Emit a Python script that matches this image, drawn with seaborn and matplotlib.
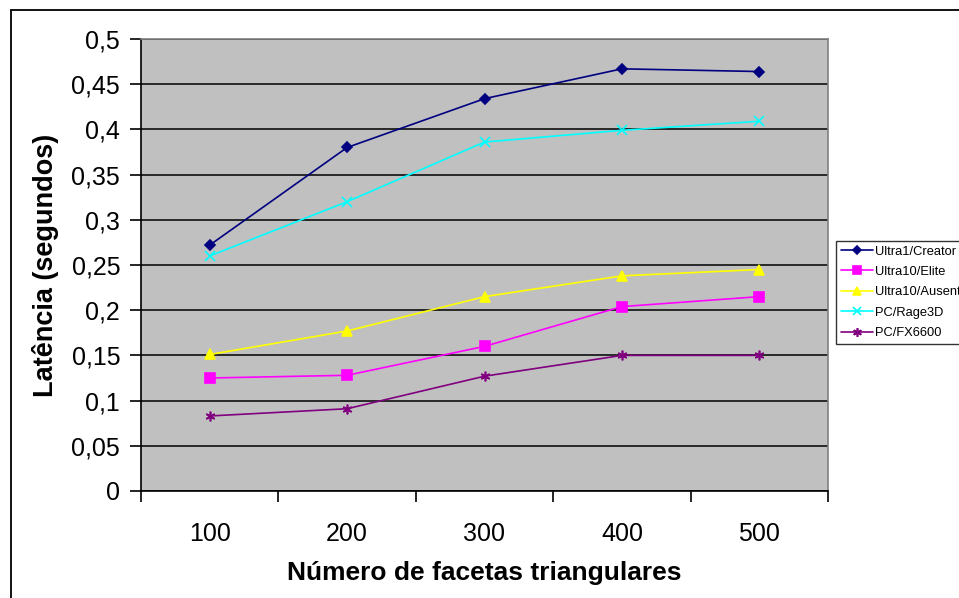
import matplotlib
matplotlib.use("Agg")
import matplotlib.pyplot as plt
from matplotlib.lines import Line2D
from matplotlib.ticker import FixedLocator, FuncFormatter
import seaborn as sns
import pandas as pd

# Mesh sizes (number of triangular facets)
facetas = ["100", "200", "300", "400", "500"]

# Latency in seconds for each platform
ultra1_creator = [0.272, 0.380, 0.434, 0.467, 0.464]
ultra10_elite = [0.125, 0.128, 0.160, 0.204, 0.215]
ultra10_ausento = [0.151, 0.177, 0.215, 0.238, 0.245]
pc_rage3d = [0.260, 0.320, 0.386, 0.399, 0.409]
pc_fx6600 = [0.083, 0.091, 0.127, 0.150, 0.150]

series_names = ["Ultra1/Creator", "Ultra10/Elite", "Ultra10/Ausento",
                "PC/Rage3D", "PC/FX6600"]
series_values = [ultra1_creator, ultra10_elite, ultra10_ausento,
                 pc_rage3d, pc_fx6600]

y_ticks = [0, 0.05, 0.1, 0.15, 0.2, 0.25, 0.3, 0.35, 0.4, 0.45, 0.5]

rows = []
for name, vals in zip(series_names, series_values):
    for i, (cat, v) in enumerate(zip(facetas, vals)):
        rows.append({"pos": i, "facetas": cat, "serie": name, "latencia": v})
df = pd.DataFrame(rows)

palette = {
    "Ultra1/Creator": "#000080",
    "Ultra10/Elite": "#FF00FF",
    "Ultra10/Ausento": "#FFFF00",
    "PC/Rage3D": "#00FFFF",
    "PC/FX6600": "#800080",
}
markers = {
    "Ultra1/Creator": "D",
    "Ultra10/Elite": "s",
    "Ultra10/Ausento": "^",
    "PC/Rage3D": "x",
    "PC/FX6600": (6, 2, 0),
}
msize = {
    "Ultra1/Creator": 5,
    "Ultra10/Elite": 6.5,
    "Ultra10/Ausento": 7,
    "PC/Rage3D": 7,
    "PC/FX6600": 7,
}

sns.set_theme(style="ticks")
plt.rcParams["font.family"] = ["Liberation Sans", "DejaVu Sans"]
plt.rcParams["text.color"] = "black"
plt.rcParams["axes.labelcolor"] = "black"

fig = plt.figure(figsize=(9.59, 5.98), dpi=100)
ax = fig.add_axes([141 / 959, 1 - 491 / 598, 687 / 959, 452 / 598])
ax.set_facecolor("#C0C0C0")
ax.set_axisbelow(True)

for name in series_names:
    sub = df[df["serie"] == name]
    sns.lineplot(data=sub, x="pos", y="latencia", color=palette[name],
                 marker=markers[name], markersize=msize[name],
                 markeredgewidth=1.2, markeredgecolor=palette[name],
                 markerfacecolor=palette[name], linewidth=1.2, ax=ax,
                 label=name, legend=False)

ax.set_xlim(-0.5, len(facetas) - 0.5)
ax.set_ylim(0, 0.5)

# Category labels centred, tick marks between categories
ax.xaxis.set_major_locator(FixedLocator(range(len(facetas))))
ax.set_xticklabels(facetas)
ax.xaxis.set_minor_locator(FixedLocator([i - 0.5 for i in range(len(facetas) + 1)]))
ax.tick_params(axis="x", which="major", length=0, pad=22, labelsize=18, colors="black")
ax.tick_params(axis="x", which="minor", length=8, width=1.2, direction="out", color="black")

ax.yaxis.set_major_locator(FixedLocator(y_ticks))
ax.yaxis.set_major_formatter(FuncFormatter(lambda v, p: f"{v:g}".replace(".", ",")))
ax.tick_params(axis="y", length=8, width=1.2, direction="out", pad=7,
               labelsize=18, colors="black")

ax.yaxis.grid(True, color="black", linewidth=1.1)
ax.xaxis.grid(False)

for side in ["left", "bottom"]:
    ax.spines[side].set_color("black")
    ax.spines[side].set_linewidth(1.2)
for side in ["top", "right"]:
    ax.spines[side].set_color("#808080")
    ax.spines[side].set_linewidth(1.2)

ax.set_xlabel("Número de facetas triangulares", fontsize=19,
              fontweight="bold", labelpad=11)
ax.set_ylabel("Latência (segundos)", fontsize=19.5, fontweight="bold",
              labelpad=9)

handles = [Line2D([0], [0], color=palette[n], marker=markers[n],
                  markersize=msize[n] * 0.9, markeredgewidth=1.2,
                  markerfacecolor=palette[n], markeredgecolor=palette[n],
                  linewidth=1.2)
           for n in series_names]
leg = fig.legend(handles, series_names, loc="upper left",
                 bbox_to_anchor=(836 / 959, 1 - 241 / 598),
                 fontsize=9.3, frameon=True, fancybox=False, shadow=False,
                 borderaxespad=0, borderpad=0.35, labelspacing=0.65,
                 handlelength=2.5, handletextpad=0.2)
leg.get_frame().set_edgecolor("black")
leg.get_frame().set_linewidth(1.0)

# Outer chart frame
fig.add_artist(Line2D([11 / 959, 11 / 959], [0, 1 - 10 / 598],
                      transform=fig.transFigure, color="black", linewidth=1.3))
fig.add_artist(Line2D([11 / 959, 1], [1 - 10 / 598, 1 - 10 / 598],
                      transform=fig.transFigure, color="black", linewidth=1.3))

fig.savefig("out.png", dpi=100)
